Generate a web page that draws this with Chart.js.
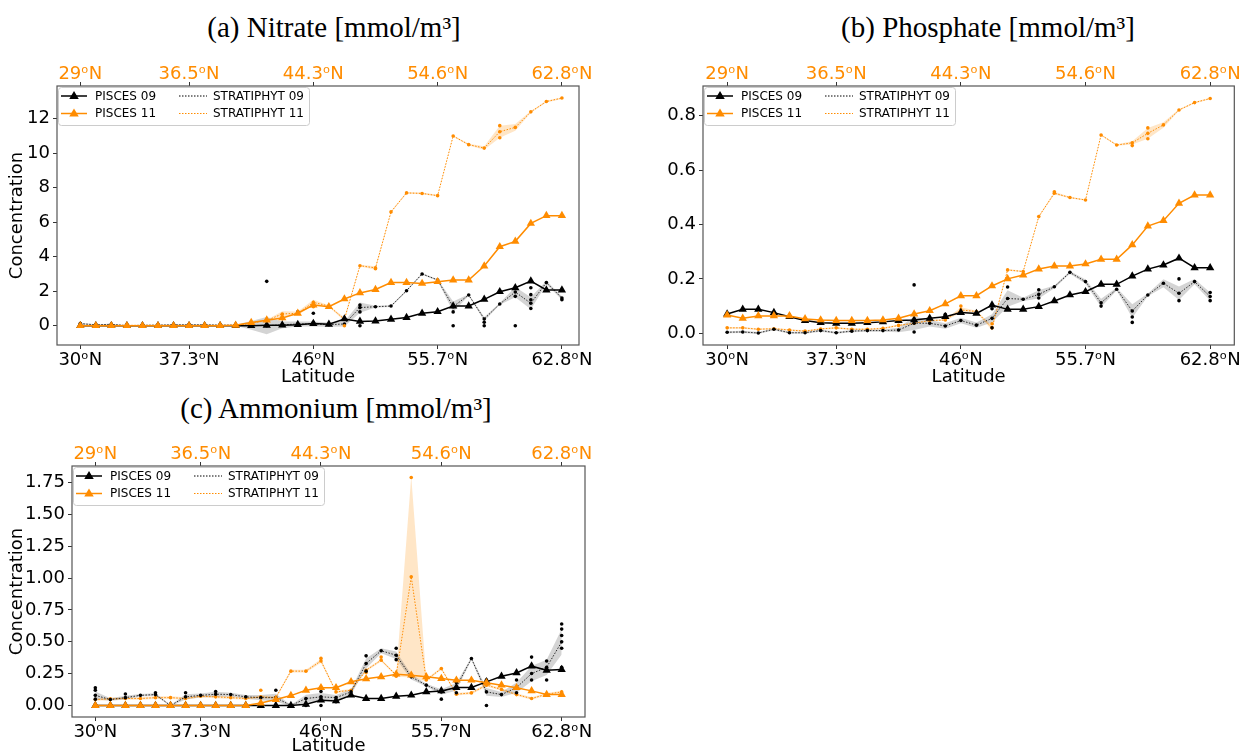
<!DOCTYPE html>
<html lang="en">
<head>
<meta charset="UTF-8">
<title>Nutrients along the transect</title>
<script src="https://cdn.jsdelivr.net/npm/chart.js@4"></script>
<style>
  body { margin: 0; background: #fff; width: 1242px; height: 754px; position: relative; overflow: hidden; font-family: 'DejaVu Sans', sans-serif; }
  .panel { position: absolute; }
  .title { position: absolute; font-family: 'Liberation Serif', serif; font-size: 29px; line-height: 29px; white-space: nowrap; transform: translateX(-50%); color: #000; }
</style>
</head>
<body>
<div class="title" style="left:334px;top:13px">(a) Nitrate [mmol/m³]</div>
<div class="title" style="left:988px;top:13px">(b) Phosphate [mmol/m³]</div>
<div class="title" style="left:336px;top:394px">(c) Ammonium [mmol/m³]</div>

<div class="panel" style="left:0;top:40px;width:600px;height:355px"><canvas id="chartA"></canvas></div>
<div class="panel" style="left:640px;top:40px;width:602px;height:355px"><canvas id="chartB"></canvas></div>
<div class="panel" style="left:0;top:430px;width:600px;height:340px"><canvas id="chartC"></canvas></div>

<script>
// station ticks (index along the transect)
const tickPos = [0, 7, 15, 23, 31];
const bottomLabels = ['30ᵒN', '37.3ᵒN', '46ᵒN', '55.7ᵒN', '62.8ᵒN'];
const topLabels = ['29ᵒN', '36.5ᵒN', '44.3ᵒN', '54.6ᵒN', '62.8ᵒN'];

// (a) nitrate
const pisces09A = [0,0,0,0,0,0,0,0,0,0,0,0,0.02,0.03,0.06,0.12,0.08,0.39,0.25,0.27,0.37,0.47,0.72,0.81,1.14,1.14,1.53,1.97,2.2,2.59,2.07,2.07];
const pisces11A = [0,0,0,0,0,0,0,0,0,0,0.02,0.18,0.32,0.45,0.72,1.2,1.1,1.55,1.9,2.1,2.5,2.5,2.45,2.55,2.65,2.65,3.46,4.58,4.89,5.93,6.38,6.38];
const strat09A = [0.12,0.05,0.08,0,0.02,0.03,0.05,0.05,0.05,0.03,0.03,0.02,0,0.05,0.1,0.1,0.06,0.1,1.05,1.1,1.14,2.03,3.0,2.65,1.1,1.78,0.39,1.26,1.95,1.3,2.5,1.6];
const spread09A = [0.05,0.03,0.03,0.03,0.03,0.03,0.03,0.03,0.03,0.03,0.03,0.25,0.5,0.2,0.15,0.15,0.12,0.15,0.3,0.05,0.05,0.05,0.05,0.05,0.3,0.05,0.12,0.05,0.3,0.35,0.1,0.1];
const extra09A = [[12,2.57],[14,0.8],[15,0.72],[15,0.2],[18,0.8],[18,1.2],[18,0.25],[18,0],[24,0.8],[24,0],[26,0.2],[26,0],[28,1.7],[28,2.2],[28,0],[29,2.2],[29,1.8],[29,1.5],[29,1.0],[31,1.5]];
const strat11A = [0.02,0.02,0.02,0.02,0.02,0.02,0.02,0.02,0.02,0.02,0.02,0.15,0.3,0.68,0.72,1.35,1.14,0.37,3.48,3.35,6.6,7.7,7.67,7.54,11.0,10.5,10.3,11.25,11.5,12.4,13.0,13.2];
const spread11A = [0.03,0.03,0.03,0.03,0.03,0.03,0.03,0.03,0.03,0.03,0.03,0.05,0.05,0.15,0.1,0.15,0.05,0.1,0.05,0.1,0.05,0.05,0.05,0.05,0.05,0.05,0.1,0.35,0.2,0.05,0.05,0.05];
const extra11A = [[15,1.1],[17,0],[27,11.6],[27,10.9],[19,3.3],[13,0.4]];

// (b) phosphate
const pisces09B = [0.071,0.088,0.088,0.076,0.061,0.047,0.039,0.037,0.037,0.039,0.042,0.047,0.049,0.055,0.061,0.076,0.073,0.104,0.088,0.088,0.098,0.119,0.141,0.153,0.18,0.18,0.21,0.236,0.251,0.276,0.241,0.241];
const pisces11B = [0.067,0.055,0.064,0.064,0.064,0.053,0.049,0.047,0.047,0.047,0.049,0.055,0.071,0.083,0.108,0.138,0.138,0.174,0.2,0.214,0.236,0.247,0.247,0.255,0.272,0.272,0.325,0.394,0.414,0.478,0.508,0.508];
const strat09B = [0.004,0.005,0.001,0.015,0.002,0.002,0.01,0.002,0.008,0.01,0.01,0.012,0.037,0.037,0.027,0.047,0.03,0.055,0.128,0.125,0.143,0.171,0.224,0.19,0.112,0.162,0.082,0.141,0.184,0.147,0.19,0.135];
const spread09B = [0.004,0.004,0.004,0.004,0.004,0.004,0.004,0.004,0.004,0.004,0.004,0.008,0.025,0.012,0.01,0.01,0.01,0.015,0.03,0.006,0.015,0.005,0.005,0.008,0.015,0.005,0.025,0.005,0.015,0.025,0.01,0.015];
const extra09B = [[12,0.178],[12,0.005],[14,0.07],[17,0.02],[17,0.09],[18,0.17],[18,0.09],[20,0.16],[20,0.13],[24,0.1],[26,0.04],[26,0.06],[29,0.2],[29,0.12],[31,0.12],[31,0.15]];
const strat11B = [0.02,0.02,0.015,0.017,0.012,0.008,0.016,0.02,0.015,0.015,0.018,0.029,0.037,0.047,0.049,0.086,0.08,0.02,0.233,0.227,0.429,0.515,0.499,0.49,0.729,0.692,0.7,0.735,0.766,0.821,0.848,0.863];
const spread11B = [0.003,0.003,0.003,0.003,0.003,0.003,0.003,0.003,0.003,0.003,0.003,0.003,0.003,0.003,0.003,0.01,0.003,0.01,0.003,0.003,0.003,0.005,0.003,0.003,0.003,0.003,0.006,0.02,0.01,0.003,0.003,0.003];
const extra11B = [[15,0.1],[17,0.035],[21,0.52],[26,0.69],[27,0.755],[27,0.715]];

// (c) ammonium
const pisces09C = [0,0,0,0,0,0,0,0,0,0,0,0,0,0,0.01,0.042,0.036,0.081,0.055,0.055,0.073,0.081,0.107,0.115,0.141,0.141,0.186,0.23,0.256,0.309,0.277,0.283];
const pisces11C = [0,0,0,0,0,0,0,0,0,0,0,0.02,0.047,0.078,0.12,0.14,0.14,0.186,0.21,0.225,0.246,0.238,0.225,0.212,0.199,0.199,0.178,0.16,0.14,0.115,0.086,0.086];
const strat09C = [0.08,0.047,0.062,0.08,0.086,0,0.068,0.08,0.089,0.086,0.068,0.062,0.062,0,0.055,0.068,0.062,0.107,0.33,0.43,0.395,0.225,0.16,0.107,0.146,0.369,0.107,0.086,0.141,0.251,0.3,0.5];
const spread09C = [0.03,0.01,0.015,0.01,0.01,0.005,0.02,0.015,0.02,0.015,0.015,0.02,0.03,0.005,0.03,0.03,0.02,0.02,0.04,0.02,0.03,0.02,0.01,0.02,0.03,0.01,0.03,0.02,0.04,0.06,0.06,0.1];
const extra09C = [[0,0.14],[0,0.12],[0,0.05],[2,0.09],[4,0.1],[6,0.1],[8,0.11],[12,0.12],[12,0],[14,0.12],[14,0],[15,0.11],[15,0],[16,0.03],[18,0.39],[18,0.27],[20,0.45],[20,0.36],[23,0.05],[24,0.1],[24,0.18],[26,0],[26,0.2],[28,0.2],[28,0.1],[29,0.38],[29,0.2],[30,0.35],[30,0.2],[31,0.64],[31,0.6],[31,0.55],[31,0.45],[31,0.3],[31,0.28]];
const strat11C = [0.047,0.052,0.055,0.055,0.062,0.062,0.055,0.073,0.068,0.062,0.055,0.068,0.062,0.27,0.27,0.35,0.107,0.12,0.277,0.356,0.238,1.01,0.2,0.29,0.089,0.099,0.16,0.126,0.086,0.055,0.089,0.107];
const spread11C = [0.01,0.01,0.01,0.01,0.01,0.01,0.01,0.01,0.01,0.01,0.01,0.01,0.01,0.01,0.01,0.015,0.01,0.01,0.01,0.01,0.01,0.79,0.01,0.01,0.01,0.01,0.01,0.01,0.01,0.01,0.01,0.01];
const extra11C = [[11,0.12],[15,0.37],[18,0.26],[19,0.38],[20,0.23],[21,1.79]];

const BLACK = '#000000';
const ORANGE = '#ff8c00';
const GREY_BAND = 'rgba(120,120,120,0.32)';
const ORANGE_BAND = 'rgba(255,140,0,0.22)';
const TICK_FONT = {family: 'DejaVu Sans', size: 18};

function pts(arr) { return arr.map((v, i) => ({x: i, y: v})); }
function edge(mean, spread, sign) { return mean.map((v, i) => ({x: i, y: v + sign * spread[i]})); }
function pairs(list) { return list.map(p => ({x: p[0], y: p[1]})); }

function buildDatasets(p09, p11, s09, sp09, x09, s11, sp11, x11) {
    const base = {tension: 0, fill: false};
    return [
        {...base, label: '', data: edge(s09, sp09, -1), borderWidth: 0, pointRadius: 0, order: 9},
        {...base, label: '', data: edge(s09, sp09, 1), borderWidth: 0, pointRadius: 0, fill: '-1', backgroundColor: GREY_BAND, order: 9},
        {...base, label: '', data: edge(s11, sp11, -1), borderWidth: 0, pointRadius: 0, order: 9},
        {...base, label: '', data: edge(s11, sp11, 1), borderWidth: 0, pointRadius: 0, fill: '-1', backgroundColor: ORANGE_BAND, order: 9},
        {...base, label: 'STRATIPHYT 09', data: pts(s09), borderColor: 'rgba(0,0,0,0.8)', backgroundColor: BLACK, borderWidth: 1, borderDash: [1.5, 1.5], pointRadius: 1.8, pointBorderWidth: 0, order: 3},
        {...base, label: 'STRATIPHYT 11', data: pts(s11), borderColor: ORANGE, backgroundColor: ORANGE, borderWidth: 1, borderDash: [1.5, 1.5], pointRadius: 1.8, pointBorderWidth: 0, order: 3},
        {...base, label: '', data: pairs(x09), showLine: false, backgroundColor: BLACK, borderColor: BLACK, pointRadius: 1.8, pointBorderWidth: 0, order: 2},
        {...base, label: '', data: pairs(x11), showLine: false, backgroundColor: ORANGE, borderColor: ORANGE, pointRadius: 1.8, pointBorderWidth: 0, order: 2},
        {...base, label: 'PISCES 09', data: pts(p09), borderColor: BLACK, backgroundColor: BLACK, borderWidth: 1.5, pointStyle: 'triangle', pointRadius: 4.8, pointBorderWidth: 0, order: 1},
        {...base, label: 'PISCES 11', data: pts(p11), borderColor: ORANGE, backgroundColor: ORANGE, borderWidth: 1.5, pointStyle: 'triangle', pointRadius: 4.8, pointBorderWidth: 0, order: 0}
    ];
}

// frame round the axes and matplotlib-like legend box inside the axes
const framePlugin = {
    id: 'frame',
    afterDraw(chart) {
        const {ctx, chartArea: a} = chart;
        ctx.save();
        ctx.strokeStyle = '#555';
        ctx.lineWidth = 1.2;
        ctx.strokeRect(a.left, a.top, a.right - a.left, a.bottom - a.top);

        // legend
        const x0 = a.left + 1, y0 = a.top + 1;
        ctx.fillStyle = 'rgba(255,255,255,0.85)';
        ctx.strokeStyle = '#cccccc';
        ctx.lineWidth = 1;
        ctx.beginPath();
        ctx.roundRect(x0 + 0.5, y0 + 0.5, 251, 38, 3);
        ctx.fill();
        ctx.stroke();
        const items = [
            {label: 'PISCES 09', color: BLACK, tri: true, col: 0, row: 0},
            {label: 'PISCES 11', color: ORANGE, tri: true, col: 0, row: 1},
            {label: 'STRATIPHYT 09', color: BLACK, tri: false, col: 1, row: 0},
            {label: 'STRATIPHYT 11', color: ORANGE, tri: false, col: 1, row: 1}
        ];
        ctx.font = '12px "DejaVu Sans"';
        ctx.textBaseline = 'middle';
        items.forEach(it => {
            const lx = a.left + (it.col ? 122 : 4);
            const y = a.top + (it.row ? 27.5 : 10);
            ctx.strokeStyle = it.color;
            ctx.fillStyle = it.color;
            if (it.tri) {
                ctx.lineWidth = 1.5;
                ctx.setLineDash([]);
                ctx.beginPath(); ctx.moveTo(lx, y); ctx.lineTo(lx + 26, y); ctx.stroke();
                const cx = lx + 13, r = 5;
                ctx.beginPath();
                ctx.moveTo(cx, y - r);
                ctx.lineTo(cx + r * 0.95, y + r * 0.6);
                ctx.lineTo(cx - r * 0.95, y + r * 0.6);
                ctx.closePath();
                ctx.fill();
            } else {
                ctx.lineWidth = 1;
                ctx.setLineDash([1.5, 1.5]);
                ctx.beginPath(); ctx.moveTo(lx, y); ctx.lineTo(lx + 28, y); ctx.stroke();
                ctx.setLineDash([]);
            }
            ctx.fillStyle = '#000';
            ctx.fillText(it.label, lx + 34, y + 0.5);
        });
        ctx.restore();
    }
};

function makeChart(id, datasets, g) {
    const xTicks = (labels, color, pad) => ({
        autoSkip: false, maxRotation: 0, minRotation: 0, color: color, font: TICK_FONT, padding: pad,
        callback: v => labels[tickPos.indexOf(v)]
    });
    const gridOpts = {drawOnChartArea: false, drawTicks: true, tickLength: 4, color: '#333'};
    return new Chart(document.getElementById(id), {
        type: 'line',
        data: {datasets: datasets},
        options: {
            responsive: true,
            maintainAspectRatio: false,
            animation: false,
            layout: {padding: {left: 0, right: g.padRight, top: 0, bottom: 0}},
            plugins: {legend: {display: false}, tooltip: {enabled: false}},
            scales: {
                x: {
                    type: 'linear', position: 'bottom', min: g.xMin, max: g.xMax,
                    afterBuildTicks: s => { s.ticks = tickPos.map(v => ({value: v})); },
                    afterFit: s => { s.height = g.bottomH; },
                    ticks: xTicks(bottomLabels, '#000', 1),
                    grid: gridOpts, border: {display: false},
                    title: {display: true, text: 'Latitude', color: '#000', font: TICK_FONT, padding: {top: 0, bottom: g.latPad}}
                },
                x2: {
                    type: 'linear', position: 'top', min: g.xMin, max: g.xMax,
                    afterBuildTicks: s => { s.ticks = tickPos.map(v => ({value: v})); },
                    afterFit: s => { s.height = g.topH; },
                    ticks: xTicks(topLabels, ORANGE, -3),
                    grid: gridOpts, border: {display: false}
                },
                y: {
                    type: 'linear', position: 'left', min: g.yMin, max: g.yMax,
                    afterBuildTicks: s => { s.ticks = g.yTicks.map(v => ({value: v})); },
                    afterFit: s => { s.width = g.yWidth; },
                    ticks: {color: '#000', font: TICK_FONT, padding: 3, callback: v => v.toFixed(g.dec)},
                    grid: gridOpts, border: {display: false},
                    title: {display: g.yTitle, text: 'Concentration', color: '#000', font: TICK_FONT, padding: {top: 7, bottom: 0}}
                }
            }
        },
        plugins: [framePlugin]
    });
}

makeChart('chartA', buildDatasets(pisces09A, pisces11A, strat09A, spread09A, extra09A, strat11A, spread11A, extra11A), {
    xMin: -1.5, xMax: 32.1, yMin: -1.12, yMax: 13.9, yTicks: [0, 2, 4, 6, 8, 10, 12], dec: 0,
    yWidth: 57, topH: 46, bottomH: 50, padRight: 21, latPad: 7, yTitle: true
});
makeChart('chartB', buildDatasets(pisces09B, pisces11B, strat09B, spread09B, extra09B, strat11B, spread11B, extra11B), {
    xMin: -1.55, xMax: 32.55, yMin: -0.043, yMax: 0.909, yTicks: [0, 0.2, 0.4, 0.6, 0.8], dec: 1,
    yWidth: 63, topH: 46, bottomH: 50, padRight: 7, latPad: 7, yTitle: false
});
makeChart('chartC', buildDatasets(pisces09C, pisces11C, strat09C, spread09C, extra09C, strat11C, spread11C, extra11C), {
    xMin: -1.55, xMax: 32.55, yMin: -0.09, yMax: 1.88, yTicks: [0, 0.25, 0.5, 0.75, 1, 1.25, 1.5, 1.75], dec: 2,
    yWidth: 72, topH: 36, bottomH: 53, padRight: 15, latPad: 13, yTitle: true
});
</script>
</body>
</html>
